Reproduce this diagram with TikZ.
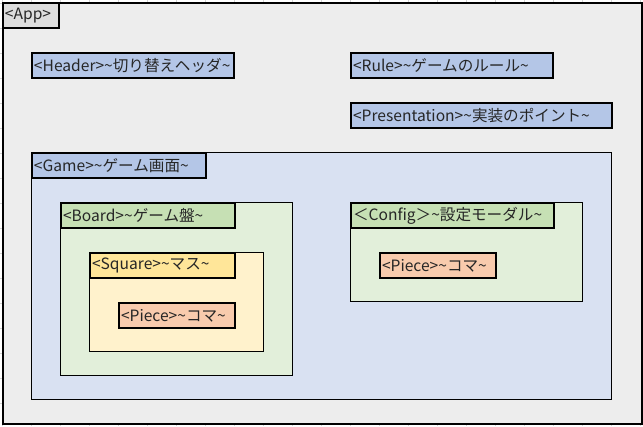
\documentclass[tikz,border=0pt]{standalone}
\usepackage{fontspec}
\setmainfont{Noto Sans CJK JP}
\begin{document}
\begin{tikzpicture}[x=1pt,y=-1pt,
  container/.style={draw=black,line width=1pt,rectangle,inner sep=0pt,anchor=north west},
  lbl/.style={draw=black,line width=2pt,rectangle,anchor=north west,inner xsep=2pt,inner ysep=0pt,minimum height=25pt,align=left,text=black!85,font=\fontsize{15.6}{17}\selectfont},
  gridline/.style={draw=black!17,line width=0.6pt}
]
\definecolor{appbg}{HTML}{EDEDED}
\definecolor{applbl}{HTML}{DDDDDD}
\definecolor{bluelbl}{HTML}{B4C6E7}
\definecolor{bluebg}{HTML}{D9E1F2}
\definecolor{greenlbl}{HTML}{C6E0B4}
\definecolor{greenbg}{HTML}{E2EFDA}
\definecolor{yellowlbl}{HTML}{FFE699}
\definecolor{yellowbg}{HTML}{FFF2CC}
\definecolor{orangelbl}{HTML}{F8CBAD}
\useasboundingbox (0,0) rectangle (643,426);
\fill[white] (0,0) rectangle (643,426);
\foreach \i in {0,...,22} {\draw[gridline] (2+29*\i,0) -- (2+29*\i,426);}
\foreach \j in {0,...,17} {\draw[gridline] (0,3+25*\j) -- (643,3+25*\j);}
% App
\node[container,fill=appbg,line width=2pt,minimum width=639pt,minimum height=421pt] (app) at (2,2) {};
\node[lbl,fill=applbl,text width=52pt] (applabel) at (2,2) {<App>};
% top boxes
\node[lbl,fill=bluelbl,text width=198pt] (header) at (31,52) {<Header>\textasciitilde 切り替えヘッダ\textasciitilde};
\node[lbl,fill=bluelbl,text width=198pt] (rule) at (350,52) {<Rule>\textasciitilde ゲームのルール\textasciitilde};
\node[lbl,fill=bluelbl,text width=257pt] (pres) at (350,102) {<Presentation>\textasciitilde 実装のポイント\textasciitilde};
% Game
\node[container,fill=bluebg,minimum width=580pt,minimum height=247pt] (game) at (31,152) {};
\node[lbl,fill=bluelbl,text width=170pt] (gamelabel) at (31,152) {<Game>\textasciitilde ゲーム画面\textasciitilde};
% Board
\node[container,fill=greenbg,minimum width=232pt,minimum height=173pt] (board) at (60,202) {};
\node[lbl,fill=greenlbl,text width=170pt] (boardlabel) at (60,202) {<Board>\textasciitilde ゲーム盤\textasciitilde};
% Square
\node[container,fill=yellowbg,minimum width=174pt,minimum height=99pt] (square) at (89,252) {};
\node[lbl,fill=yellowlbl,text width=141pt] (squarelabel) at (89,252) {<Square>\textasciitilde マス\textasciitilde};
\node[lbl,fill=orangelbl,text width=112pt] (piece1) at (118,302) {<Piece>\textasciitilde コマ\textasciitilde};
% Config
\node[container,fill=greenbg,minimum width=232pt,minimum height=99pt] (config) at (350,202) {};
\node[lbl,fill=greenlbl,text width=199pt] (configlabel) at (350,202) {＜Config＞\textasciitilde 設定モーダル\textasciitilde};
\node[lbl,fill=orangelbl,text width=112pt] (piece2) at (379,252) {<Piece>\textasciitilde コマ\textasciitilde};
\end{tikzpicture}
\end{document}
